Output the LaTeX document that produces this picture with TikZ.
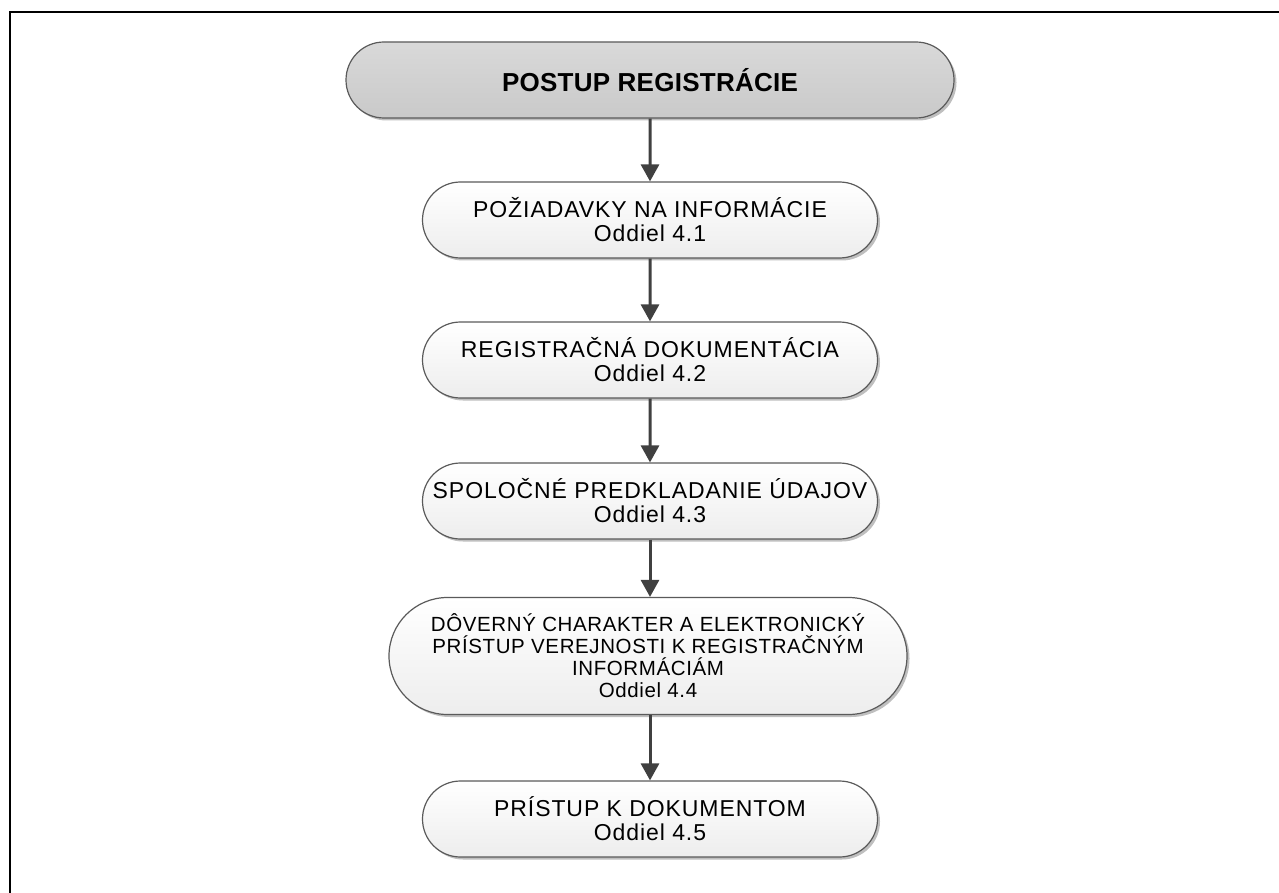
\documentclass[tikz,border=0pt]{standalone}
\usepackage{fontspec}
\setmainfont{Liberation Sans}
\newfontfamily\stagefont[LetterSpace=4]{Liberation Sans}
\newfontfamily\widefont[LetterSpace=3]{Liberation Sans}
\newfontfamily\headfont[LetterSpace=1]{Liberation Sans}
\usetikzlibrary{shapes.misc,shadows,arrows.meta}
\definecolor{edgegray}{HTML}{5A5A5A}
\definecolor{arrowgray}{HTML}{404040}

\begin{document}
\begin{tikzpicture}[x=1pt,y=-1pt,
  stage/.style={rounded rectangle,draw=edgegray,line width=1.2pt,
    top color=white,bottom color=gray!14,
    drop shadow={shadow xshift=2.5pt,shadow yshift=-2.5pt,fill=gray!50,opacity=1},
    minimum width=455pt,minimum height=76pt,inner sep=0pt,align=center,
    font={\stagefont\fontsize{23}{24}\selectfont}},
  flow/.style={arrowgray,line width=3pt,-{Triangle[length=17pt,width=18pt]}}]
  \useasboundingbox (0,0) rectangle (1279,893);
  % frame
  \draw[line width=2pt] (9.5,893) -- (9.5,12) -- (1279,12);

  \node[stage,top color=gray!30,bottom color=gray!42,minimum width=608pt,
    font={\headfont\bfseries\fontsize{26}{28}\selectfont}] (head) at (650,80)
    {POSTUP REGISTRÁCIE};
  \node[stage] (req) at (650,220) {POŽIADAVKY NA INFORMÁCIE\\Oddiel 4.1};
  \node[stage] (dossier) at (650,360) {REGISTRAČNÁ DOKUMENTÁCIA\\Oddiel 4.2};
  \node[stage] (joint) at (650,501) {SPOLOČNÉ PREDKLADANIE ÚDAJOV\\Oddiel 4.3};
  \node[stage,minimum width=518pt,minimum height=117pt,
    font={\widefont\fontsize{20.5}{22}\selectfont}] (conf) at (648,656)
    {DÔVERNÝ CHARAKTER A ELEKTRONICKÝ\\PRÍSTUP VEREJNOSTI K REGISTRAČNÝM\\INFORMÁCIÁM\\Oddiel 4.4};
  \node[stage] (access) at (650,819) {PRÍSTUP K DOKUMENTOM\\Oddiel 4.5};

  \draw[flow] (head) -- (req);
  \draw[flow] (req) -- (dossier);
  \draw[flow] (dossier) -- (joint);
  \draw[flow] (joint.south) -- (joint.south |- conf.north);
  \draw[flow] (conf.south -| access.north) -- (access.north);
\end{tikzpicture}
\end{document}
